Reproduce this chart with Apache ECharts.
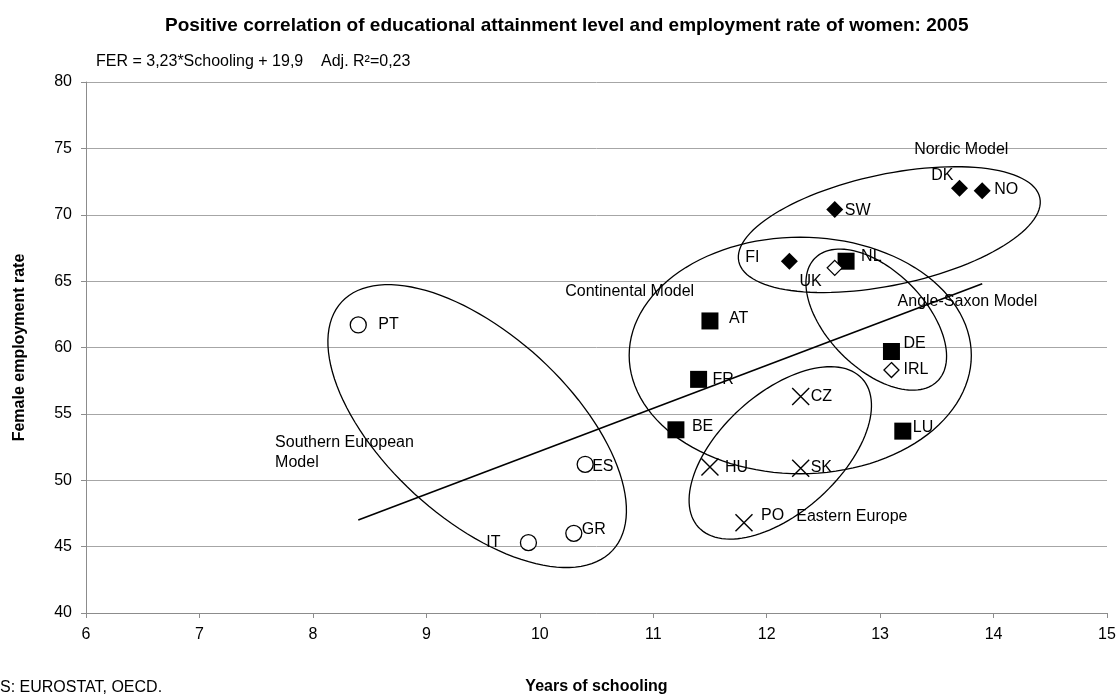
<!DOCTYPE html>
<html>
<head>
<meta charset="utf-8">
<script src="https://cdn.jsdelivr.net/npm/echarts@6/dist/echarts.min.js"></script>
<style>
html,body{margin:0;padding:0;background:#fff;}
#chart{width:1119px;height:700px;}
</style>
</head>
<body>
<div id="chart"></div>
<script>
// ---- Data ----
const nordicNames = ['DK', 'NO', 'SW', 'FI'];
const nordicX = [13.7, 13.9, 12.6, 12.2];
const nordicY = [72.0, 71.8, 70.4, 66.5];

const continentalNames = ['NL', 'AT', 'DE', 'FR', 'BE', 'LU'];
const continentalX = [12.7, 11.5, 13.1, 11.4, 11.2, 13.2];
const continentalY = [66.5, 62.0, 59.7, 57.6, 53.8, 53.7];

const angloNames = ['UK', 'IRL'];
const angloX = [12.6, 13.1];
const angloY = [66.0, 58.3];

const southernNames = ['PT', 'ES', 'GR', 'IT'];
const southernX = [8.4, 10.4, 10.3, 9.9];
const southernY = [61.7, 51.2, 46.0, 45.3];

const easternNames = ['CZ', 'HU', 'SK', 'PO'];
const easternX = [12.3, 11.5, 12.3, 11.8];
const easternY = [56.3, 51.0, 50.9, 46.8];

// regression line end points (years, rate)
const trendX = [8.4, 13.9];
const trendY = [47.0, 64.8];

// group outlines: centre x, centre y, half-axis vector 1 (dx, dy), half-axis vector 2 (dx, dy), in data units
const groupEllipses = [
  [13.081, 68.88, 1.327, 2.397, 0.102, -4.09],   // Nordic
  [12.296, 59.40, 1.508, 0.0, 0.0, -8.91],       // Continental
  [12.966, 62.10, 0.538, -4.65, -0.308, -2.572], // Anglo-Saxon
  [9.448, 54.08, 1.194, -9.36, -0.553, -5.09],   // Southern
  [12.12, 52.06, 0.7215, 5.596, 0.3545, -3.297]  // Eastern
];

// group captions
const captionTexts = ['Nordic Model', 'Continental Model', 'Angle-Saxon Model', 'Southern European\nModel', 'Eastern Europe'];
const captionX = [13.30, 10.224, 13.154, 7.667, 12.261];
const captionY = [74.91, 64.22, 63.47, 52.06, 47.27];

const xTicks = [6, 7, 8, 9, 10, 11, 12, 13, 14, 15];
const yTicks = [40, 45, 50, 55, 60, 65, 70, 75, 80];

// ---- Label placement (style) ----
const labelPlace = {
  PT: ['left', 20, 0], ES: ['left', 7, 2], GR: ['left', 8, -4], IT: ['right', -28, 0],
  DK: ['right', -6, -13], NO: ['left', 12, -1], SW: ['left', 10, 1], FI: ['right', -30, -4],
  NL: ['left', 15, -5], UK: ['right', -13, 14], AT: ['left', 19, -2], DE: ['left', 12, -8],
  IRL: ['left', 12, 0], FR: ['left', 14, 0], BE: ['left', 16, -3], LU: ['left', 10, -4],
  CZ: ['left', 10, 0], HU: ['left', 15, 1], SK: ['left', 10, -1], PO: ['left', 17, -7]
};

const FONT = 'Liberation Sans, Arial, Helvetica, sans-serif';

function pts(names, xs, ys) {
  return names.map(function (n, i) {
    const p = labelPlace[n];
    return { name: n, value: [xs[i], ys[i]], label: { align: p[0], offset: [p[1], p[2]] } };
  });
}

const baseLabel = {
  show: true, position: 'inside', formatter: '{b}', color: '#000',
  fontFamily: FONT, fontSize: 16, verticalAlign: 'middle'
};

const chart = echarts.init(document.getElementById('chart'), null, { renderer: 'canvas' });

const option = {
  backgroundColor: '#fff',
  animation: false,
  title: {
    text: 'Positive correlation of educational attainment level and employment rate of women: 2005',
    left: 160, top: 11,
    textStyle: { fontFamily: FONT, fontSize: 19, fontWeight: 'bold', color: '#000' }
  },
  grid: { left: 86, right: 12, top: 82, bottom: 84 },
  xAxis: {
    type: 'value', min: xTicks[0], max: xTicks[xTicks.length - 1], interval: 1,
    name: 'Years of schooling', nameLocation: 'middle', nameGap: 66,
    nameTextStyle: { fontFamily: FONT, fontSize: 16, fontWeight: 'bold', color: '#000' },
    axisLine: { show: true, onZero: false, lineStyle: { color: '#8c8c8c', width: 1 } },
    axisTick: { show: true, length: 5, lineStyle: { color: '#8c8c8c' } },
    axisLabel: { fontFamily: FONT, fontSize: 16, color: '#000', margin: 14 },
    splitLine: { show: false }
  },
  yAxis: {
    type: 'value', min: yTicks[0], max: yTicks[yTicks.length - 1], interval: 5,
    name: 'Female employment rate', nameLocation: 'middle', nameGap: 58, nameRotate: 90,
    nameTextStyle: { fontFamily: FONT, fontSize: 16, fontWeight: 'bold', color: '#000' },
    axisLine: { show: true, lineStyle: { color: '#8c8c8c', width: 1 } },
    axisTick: { show: true, length: 5, lineStyle: { color: '#8c8c8c' } },
    axisLabel: { fontFamily: FONT, fontSize: 16, color: '#000', margin: 14 },
    splitLine: { show: true, lineStyle: { color: '#a6a6a6', width: 1 } }
  },
  graphic: [
    { type: 'text', left: 96, top: 54, style: { text: 'FER = 3,23*Schooling + 19,9    Adj. R\u00B2=0,23', font: '16px ' + FONT, fill: '#000' } },
    { type: 'text', left: 0, top: 680, style: { text: 'S: EUROSTAT, OECD.', font: '16px ' + FONT, fill: '#000' } }
  ],
  series: [
    {
      name: 'outlines', type: 'custom', z: 5, silent: true,
      data: groupEllipses,
      encode: { x: 0, y: 1 },
      renderItem: function (params, api) {
        const cx = api.value(0), cy = api.value(1);
        const ux = api.value(2), uy = api.value(3), vx = api.value(4), vy = api.value(5);
        const points = [];
        for (let k = 0; k < 120; k++) {
          const t = k / 120 * Math.PI * 2;
          const c = Math.cos(t), s = Math.sin(t);
          points.push(api.coord([cx + c * ux + s * vx, cy + c * uy + s * vy]));
        }
        return { type: 'polygon', shape: { points: points }, style: { fill: 'none', stroke: '#000', lineWidth: 1.3 } };
      }
    },
    {
      name: 'trend', type: 'line', z: 4, silent: true, symbol: 'none',
      data: trendX.map(function (x, i) { return [x, trendY[i]]; }),
      lineStyle: { color: '#000', width: 1.6 }
    },
    {
      name: 'Nordic', type: 'scatter', z: 6, symbol: 'diamond', symbolSize: 17,
      itemStyle: { color: '#000', opacity: 1 }, label: baseLabel,
      data: pts(nordicNames, nordicX, nordicY)
    },
    {
      name: 'Continental', type: 'scatter', z: 6, symbol: 'rect', symbolSize: 17,
      itemStyle: { color: '#000', opacity: 1 }, label: baseLabel,
      data: pts(continentalNames, continentalX, continentalY)
    },
    {
      name: 'Anglo', type: 'scatter', z: 6, symbol: 'diamond', symbolSize: 15,
      itemStyle: { color: '#fff', borderColor: '#000', borderWidth: 1.3, opacity: 1 }, label: baseLabel,
      data: pts(angloNames, angloX, angloY)
    },
    {
      name: 'Southern', type: 'scatter', z: 6, symbol: 'circle', symbolSize: 16,
      itemStyle: { color: '#fff', borderColor: '#000', borderWidth: 1.3, opacity: 1 }, label: baseLabel,
      data: pts(southernNames, southernX, southernY)
    },
    {
      name: 'Eastern', type: 'scatter', z: 6, symbol: 'path://M0,0L10,10M10,0L0,10', symbolSize: 17,
      itemStyle: { color: 'none', borderColor: '#000', borderWidth: 1.4, opacity: 1 }, label: baseLabel,
      data: pts(easternNames, easternX, easternY)
    },
    {
      name: 'captions', type: 'scatter', z: 7, symbolSize: 0, silent: true,
      itemStyle: { opacity: 1 },
      label: { show: true, position: 'inside', align: 'left', verticalAlign: 'middle', formatter: '{b}', color: '#000', fontFamily: FONT, fontSize: 16, lineHeight: 20 },
      data: captionTexts.map(function (t, i) { return { name: t, value: [captionX[i], captionY[i]] }; })
    }
  ]
};

chart.setOption(option);
</script>
</body>
</html>
